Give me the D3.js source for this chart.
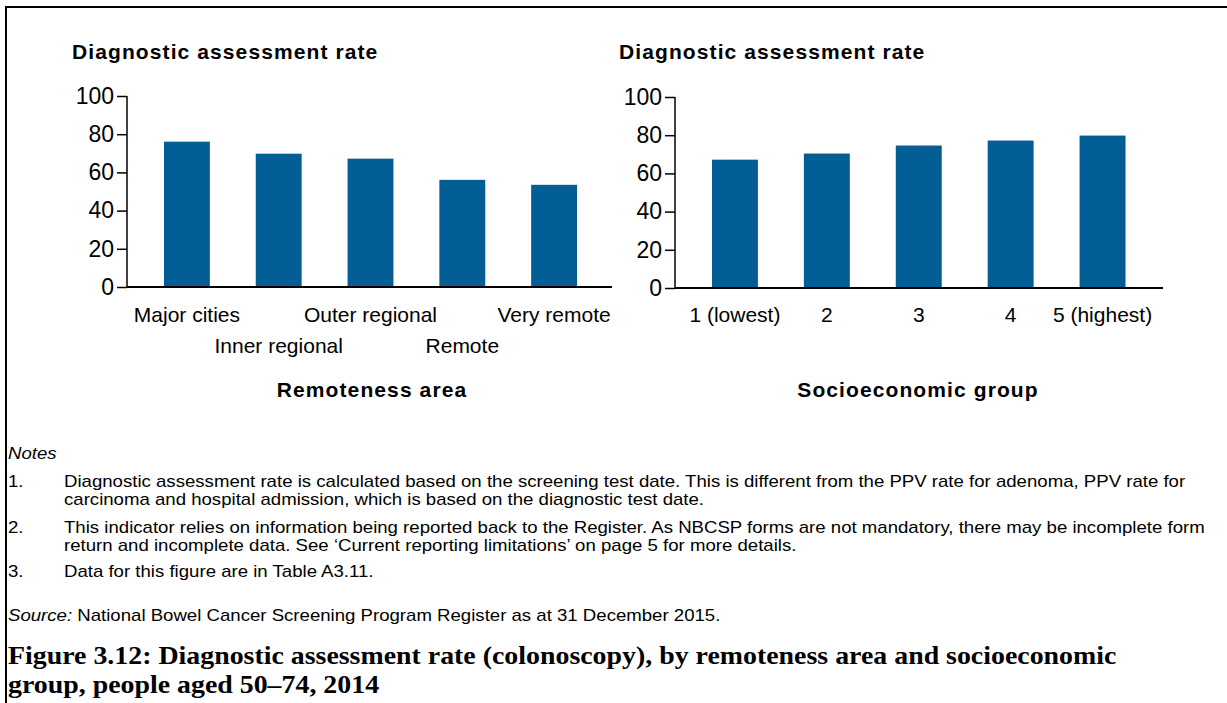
<!doctype html>
<html>
<head>
<meta charset="utf-8">
<script src="https://cdnjs.cloudflare.com/ajax/libs/d3/7.8.5/d3.min.js"></script>
<style>
  body { margin: 0; background: #fff; }
  svg { display: block; }
  text { fill: #000; }
</style>
</head>
<body>
<svg id="chart" width="1227" height="703"></svg>
<script>
// data
var remoteCats = ["Major cities", "Inner regional", "Outer regional", "Remote", "Very remote"];
var remoteRates = [76.1, 69.8, 67.2, 56.1, 53.5];
var sesCats = ["1 (lowest)", "2", "3", "4", "5 (highest)"];
var sesRates = [67.2, 70.4, 74.6, 77.2, 79.8];
var yTicks = [0, 20, 40, 60, 80, 100];

var notes = [
  ["1.", "Diagnostic assessment rate is calculated based on the screening test date. This is different from the PPV rate for adenoma, PPV rate for",
         "carcinoma and hospital admission, which is based on the diagnostic test date."],
  ["2.", "This indicator relies on information being reported back to the Register. As NBCSP forms are not mandatory, there may be incomplete form",
         "return and incomplete data. See \u2018Current reporting limitations\u2019 on page 5 for more details."],
  ["3.", "Data for this figure are in Table A3.11."]
];

var sans = "'Liberation Sans', Arial, sans-serif";
var serif = "'Liberation Serif', 'Times New Roman', serif";
var barColor = "#035e96";
var svg = d3.select("#chart").style("font-family", sans);

svg.append("rect").attr("width", 1227).attr("height", 703).attr("fill", "#fff");
// frame (top and left edges visible)
svg.append("path").attr("d", "M6,703V7H1227").attr("fill", "none").attr("stroke", "#000").attr("stroke-width", 2);

function panel(opts) {
  var y = d3.scaleLinear().domain([0, 100]).range([opts.y0, opts.y1]);
  var x = d3.scaleBand().domain(opts.cats).range(opts.band).paddingInner(0.5).paddingOuter(0.25);
  var g = svg.append("g");

  g.append("text")
    .attr("x", opts.titleX).attr("y", 59)
    .attr("font-size", 21).attr("font-weight", "bold").attr("letter-spacing", 1.1)
    .text("Diagnostic assessment rate");

  // y axis
  var ya = g.append("g")
    .attr("transform", "translate(" + opts.axisX + ",0)")
    .call(d3.axisLeft(y).tickValues(yTicks).tickSize(10).tickPadding(3));
  ya.select(".domain").remove();
  ya.selectAll("line").attr("stroke", "#000").attr("stroke-width", 1.5);
  ya.selectAll("text").style("font-size", "23px").style("font-family", sans).attr("fill", "#000");
  g.append("line")
    .attr("x1", opts.axisX).attr("x2", opts.axisX)
    .attr("y1", y(100)).attr("y2", y(0))
    .attr("stroke", "#000").attr("stroke-width", 1.5);

  g.selectAll("rect.bar")
    .data(opts.values)
    .enter().append("rect")
    .attr("class", "bar")
    .attr("x", function(d, i) { return x(opts.cats[i]); })
    .attr("width", x.bandwidth())
    .attr("y", function(d) { return y(d); })
    .attr("height", function(d) { return y(0) - y(d); })
    .attr("fill", barColor);

  // baseline
  g.append("line")
    .attr("x1", opts.axisX).attr("x2", opts.axisEnd)
    .attr("y1", y(0)).attr("y2", y(0))
    .attr("stroke", "#000").attr("stroke-width", 2);

  g.selectAll("text.cat")
    .data(opts.cats)
    .enter().append("text")
    .attr("class", "cat")
    .attr("x", function(d) { return x(d) + x.bandwidth() / 2; })
    .attr("y", function(d, i) { return opts.stagger && i % 2 ? 353 : 322; })
    .attr("text-anchor", "middle")
    .attr("font-size", 21)
    .text(function(d) { return d; });

  g.append("text")
    .attr("x", opts.titleMid).attr("y", 397)
    .attr("text-anchor", "middle")
    .attr("font-size", 21).attr("font-weight", "bold").attr("letter-spacing", 1.1)
    .text(opts.xTitle);
}

panel({ cats: remoteCats, values: remoteRates, axisX: 127, axisEnd: 612, band: [141, 600],
        y0: 287, y1: 96, titleX: 72, titleMid: 372, xTitle: "Remoteness area", stagger: true });
panel({ cats: sesCats, values: sesRates, axisX: 675, axisEnd: 1163, band: [689, 1148.5],
        y0: 288, y1: 97, titleX: 619, titleMid: 918, xTitle: "Socioeconomic group", stagger: false });

// notes (set slightly wide, like the source)
var sx = 1.095, fs = 17;
var ng = svg.append("g").attr("transform", "scale(" + sx + ",1)").attr("font-size", fs);
ng.append("text").attr("x", 8 / sx).attr("y", 459).attr("font-style", "italic").text("Notes");
var rowY = [[487, 505], [533, 551], [577]];
notes.forEach(function(n, i) {
  ng.append("text").attr("x", 8 / sx).attr("y", rowY[i][0]).text(n[0]);
  for (var k = 1; k < n.length; k++) {
    ng.append("text").attr("x", 64 / sx).attr("y", rowY[i][k - 1]).text(n[k]);
  }
});
var src = ng.append("text").attr("x", 8 / sx).attr("y", 621);
src.append("tspan").attr("font-style", "italic").text("Source:");
src.append("tspan").text(" National Bowel Cancer Screening Program Register as at 31 December 2015.");

// caption
var cap = ["Figure 3.12: Diagnostic assessment rate (colonoscopy), by remoteness area and socioeconomic",
           "group, people aged 50\u201374, 2014"];
var csx = 1.115;
var cg = svg.append("g").attr("transform", "scale(" + csx + ",1)");
cap.forEach(function(t, i) {
  cg.append("text").attr("x", 8 / csx).attr("y", 664 + i * 29)
    .style("font-family", serif)
    .attr("font-size", 25).attr("font-weight", "bold")
    .text(t);
});
</script>
</body>
</html>
